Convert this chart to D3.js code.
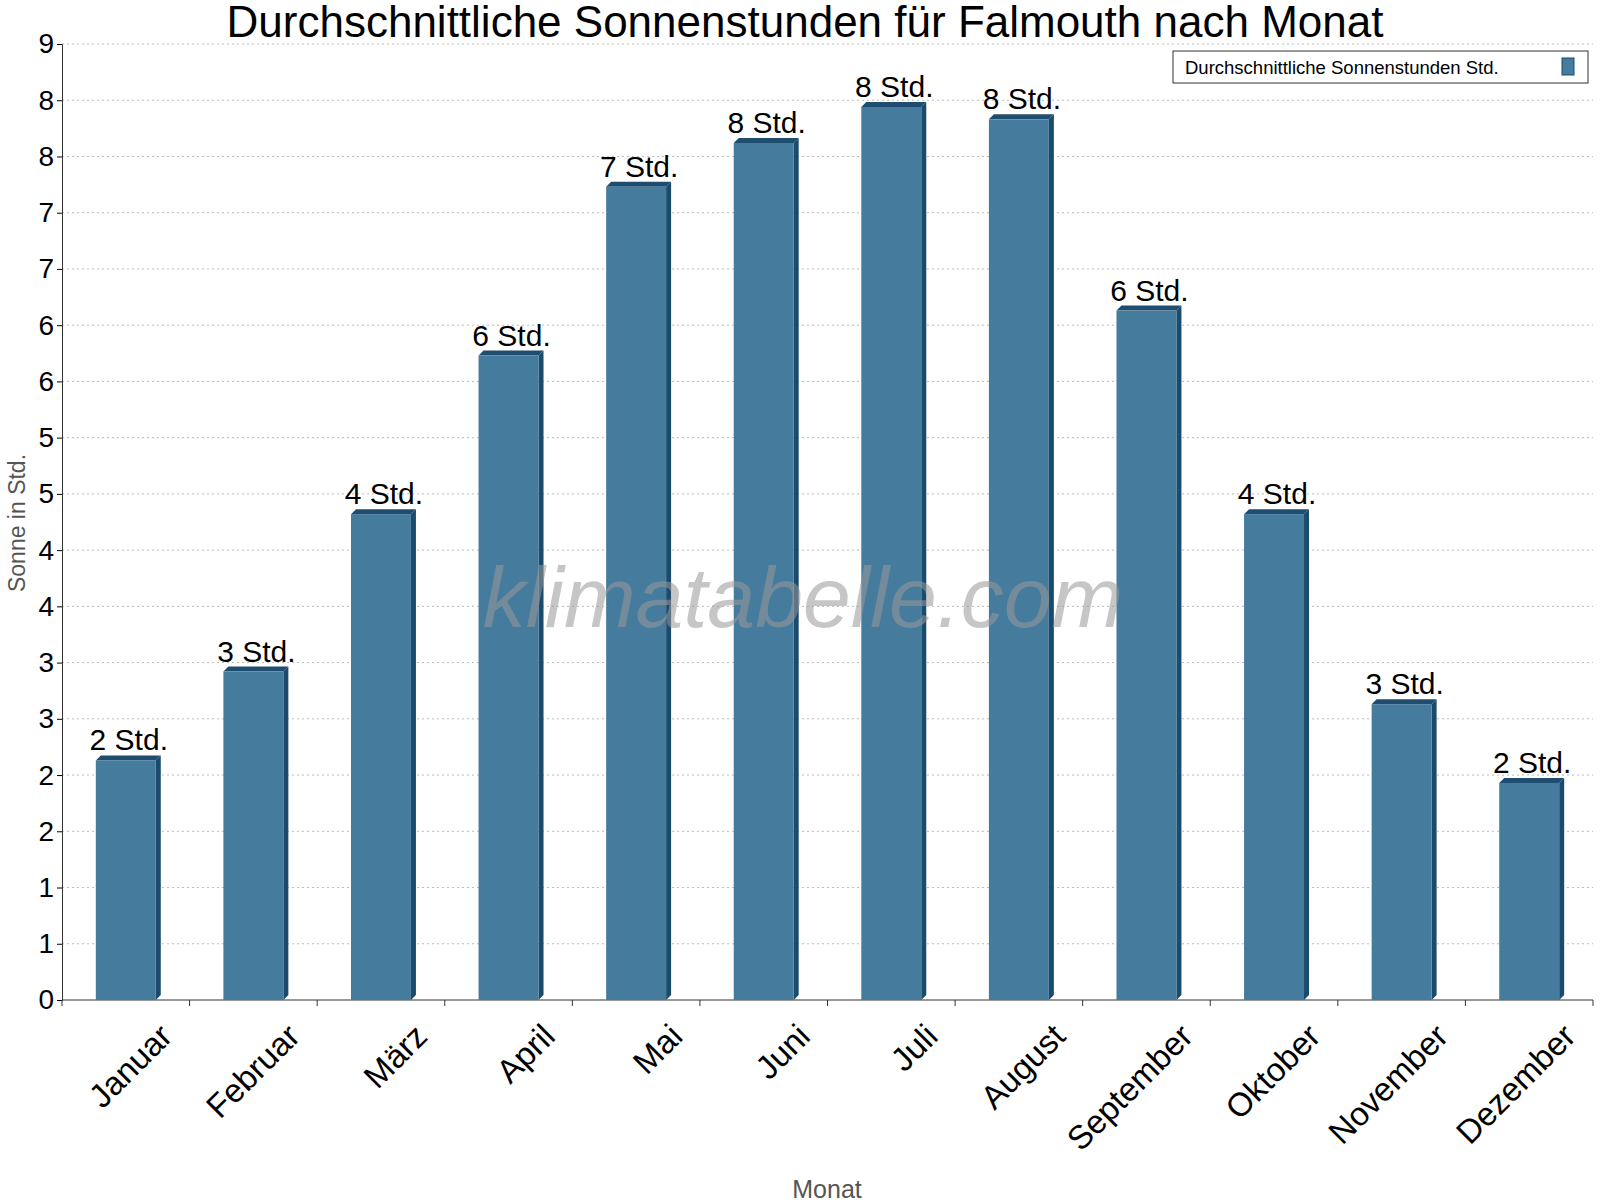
<!DOCTYPE html><html><head><meta charset="utf-8"><script src="https://d3js.org/d3.v7.min.js"></script>
<style>body{margin:0;background:#fff}text{font-family:"Liberation Sans",Arial,sans-serif}</style></head><body>
<svg id="c" width="1600" height="1200"></svg>
<script>
const months=["Januar","Februar","März","April","Mai","Juni","Juli","August","September","Oktober","November","Dezember"];
const sunHours=[2.13,2.92,4.32,5.73,7.23,7.62,7.94,7.83,6.13,4.32,2.63,1.93];
const yTicks=d3.range(0,8.51,0.5);
const svg=d3.select("#c");
const m={l:62,r:1593,t:44,b:1000};
const x=d3.scaleBand().domain(months).range([m.l,m.r]).paddingInner(0.53).paddingOuter(0.265);
const y=d3.scaleLinear().domain([0,8.5]).range([m.b,m.t]);
svg.append("g").selectAll("line").data(yTicks.slice(1)).join("line")
 .attr("x1",m.l).attr("x2",m.r).attr("y1",d=>y(d)).attr("y2",d=>y(d))
 .attr("stroke","#bbb").attr("stroke-dasharray","2,3");
const ya=svg.append("g").attr("transform",`translate(${m.l},0)`).call(d3.axisLeft(y).tickValues(yTicks).tickFormat(d=>Math.round(d)).tickSize(5));
ya.selectAll("text").attr("font-size",28).attr("fill","#000");
ya.select(".domain").attr("stroke","#333");
const xa=svg.append("g").attr("transform",`translate(0,${m.b})`);
xa.append("line").attr("x1",m.l).attr("x2",m.r).attr("stroke","#333");
const step=x.step();
xa.selectAll("line.t").data(d3.range(13)).join("line").attr("class","t")
 .attr("x1",i=>m.l+i*step).attr("x2",i=>m.l+i*step).attr("y1",0).attr("y2",6).attr("stroke","#333");
xa.selectAll("text").data(months).join("text")
 .attr("transform",d=>`translate(${x(d)+x.bandwidth()/2+32},22) rotate(-45)`)
 .attr("text-anchor","end").attr("dy","0.7em").attr("font-size",33).text(d=>d);
const g=svg.append("g");
const dep=5;
months.forEach((mo,i)=>{
 const x0=x(mo),w=x.bandwidth(),yt=y(sunHours[i]);
 g.append("polygon").attr("points",`${x0+w},${yt} ${x0+w+dep},${yt-dep} ${x0+w+dep},${m.b-dep} ${x0+w},${m.b}`).attr("fill","#1a4a6c");
 g.append("polygon").attr("points",`${x0},${yt} ${x0+dep},${yt-dep} ${x0+w+dep},${yt-dep} ${x0+w},${yt}`).attr("fill","#1e4d70");
 g.append("rect").attr("x",x0).attr("y",yt).attr("width",w).attr("height",m.b-yt).attr("fill","#457b9d");
 g.append("text").attr("x",x0+w/2+3).attr("y",yt-10).attr("text-anchor","middle").attr("font-size",30).text(Math.round(sunHours[i])+" Std.");
});
svg.append("text").attr("x",803).attr("y",627).attr("text-anchor","middle").attr("font-size",86).attr("font-style","italic").attr("fill","#999").attr("opacity",0.55).text("klimatabelle.com");
svg.append("text").attr("x",805).attr("y",37).attr("text-anchor","middle").attr("font-size",44).text("Durchschnittliche Sonnenstunden für Falmouth nach Monat");
svg.append("text").attr("transform","translate(25,523) rotate(-90)").attr("text-anchor","middle").attr("font-size",23).attr("fill","#555").text("Sonne in Std.");
svg.append("text").attr("x",827).attr("y",1198).attr("text-anchor","middle").attr("font-size",25).attr("fill","#555").text("Monat");
svg.append("rect").attr("x",1173).attr("y",51).attr("width",415).attr("height",32).attr("fill","#fff").attr("stroke","#333");
svg.append("text").attr("x",1185).attr("y",74).attr("font-size",18.5).text("Durchschnittliche Sonnenstunden Std.");
svg.append("rect").attr("x",1562).attr("y",58).attr("width",12).attr("height",17).attr("fill","#457b9d").attr("stroke","#1a4a6c");
</script></body></html>
